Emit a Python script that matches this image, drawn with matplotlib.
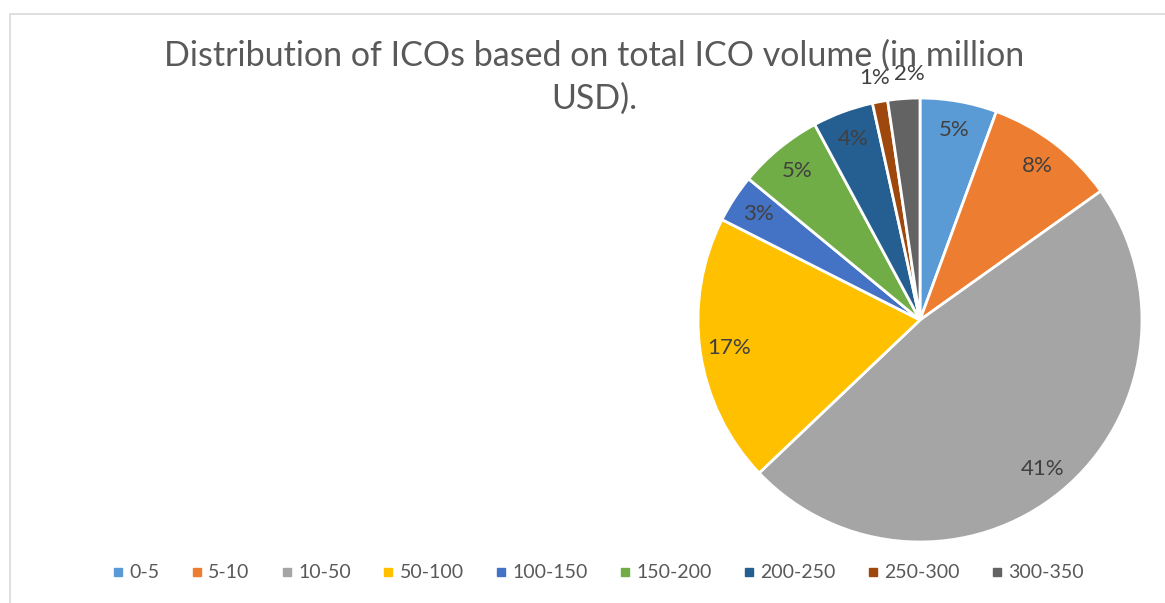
import matplotlib.pyplot as plt
from matplotlib.lines import Line2D
from matplotlib.patches import Rectangle
import numpy as np

plt.rcParams['font.family'] = ['Lato', 'DejaVu Sans']

# ICO volume buckets (million USD) and their shares (%)
categories = ['0-5', '5-10', '10-50', '50-100', '100-150', '150-200', '200-250', '250-300', '300-350']
shares = [4.8, 8.2, 41.0, 16.8, 3.0, 5.3, 3.8, 0.95, 2.0]
colors = ['#5B9BD5', '#ED7D31', '#A5A5A5', '#FFC000', '#4472C4',
          '#70AD47', '#255E91', '#9E480E', '#636363']

W, H = 1165, 603
fig = plt.figure(figsize=(W / 100, H / 100), dpi=100)

# light chart-area border (only top and left visible)
fig.patches.append(Rectangle((10 / W, -0.1), 1.2, 1 - 14 / H + 0.1, transform=fig.transFigure,
                             fill=False, edgecolor='#D9D9D9', lw=1.2))

# pie axes: centre at (920, 320) px, radius 222 px
cx, cy, R, half = 920, 320, 222, 250
ax = fig.add_axes([(cx - half) / W, (H - cy - half) / H, 2 * half / W, 2 * half / H])
wedges, _ = ax.pie(shares, colors=colors, startangle=90, counterclock=False,
                   wedgeprops=dict(edgecolor='white', linewidth=2))
lim = half / R
ax.set_xlim(-lim, lim)
ax.set_ylim(-lim, lim)
ax.axis('off')

# small slices get their labels outside, nudged apart so they don't collide
nudge = {7: -1, 8: 5}
for i, w in enumerate(wedges):
    ang = np.deg2rad((w.theta1 + w.theta2) / 2)
    dist = 1.11 if shares[i] < 2.5 else 0.87
    ax.annotate(f'{shares[i]:.0f}%', (dist * np.cos(ang), dist * np.sin(ang)),
                xytext=(nudge.get(i, 0), 0), textcoords='offset points',
                ha='center', va='center', fontsize=16, color='#404040')

fig.text(594 / W, 1 - 40 / H,
         'Distribution of ICOs based on total ICO volume (in million\nUSD).',
         ha='center', va='top', multialignment='center', fontsize=24.5,
         color='#595959', linespacing=1.4)

handles = [Line2D([], [], marker='s', linestyle='none', markersize=6,
                  markerfacecolor=c, markeredgecolor=c) for c in colors]
fig.legend(handles, categories, loc='center', bbox_to_anchor=(597 / W, 1 - 573 / H),
           ncol=9, frameon=False, fontsize=14, labelcolor='#595959',
           handletextpad=0.2, columnspacing=1.5, handlelength=0.8)

fig.savefig('out.png', dpi=100)
